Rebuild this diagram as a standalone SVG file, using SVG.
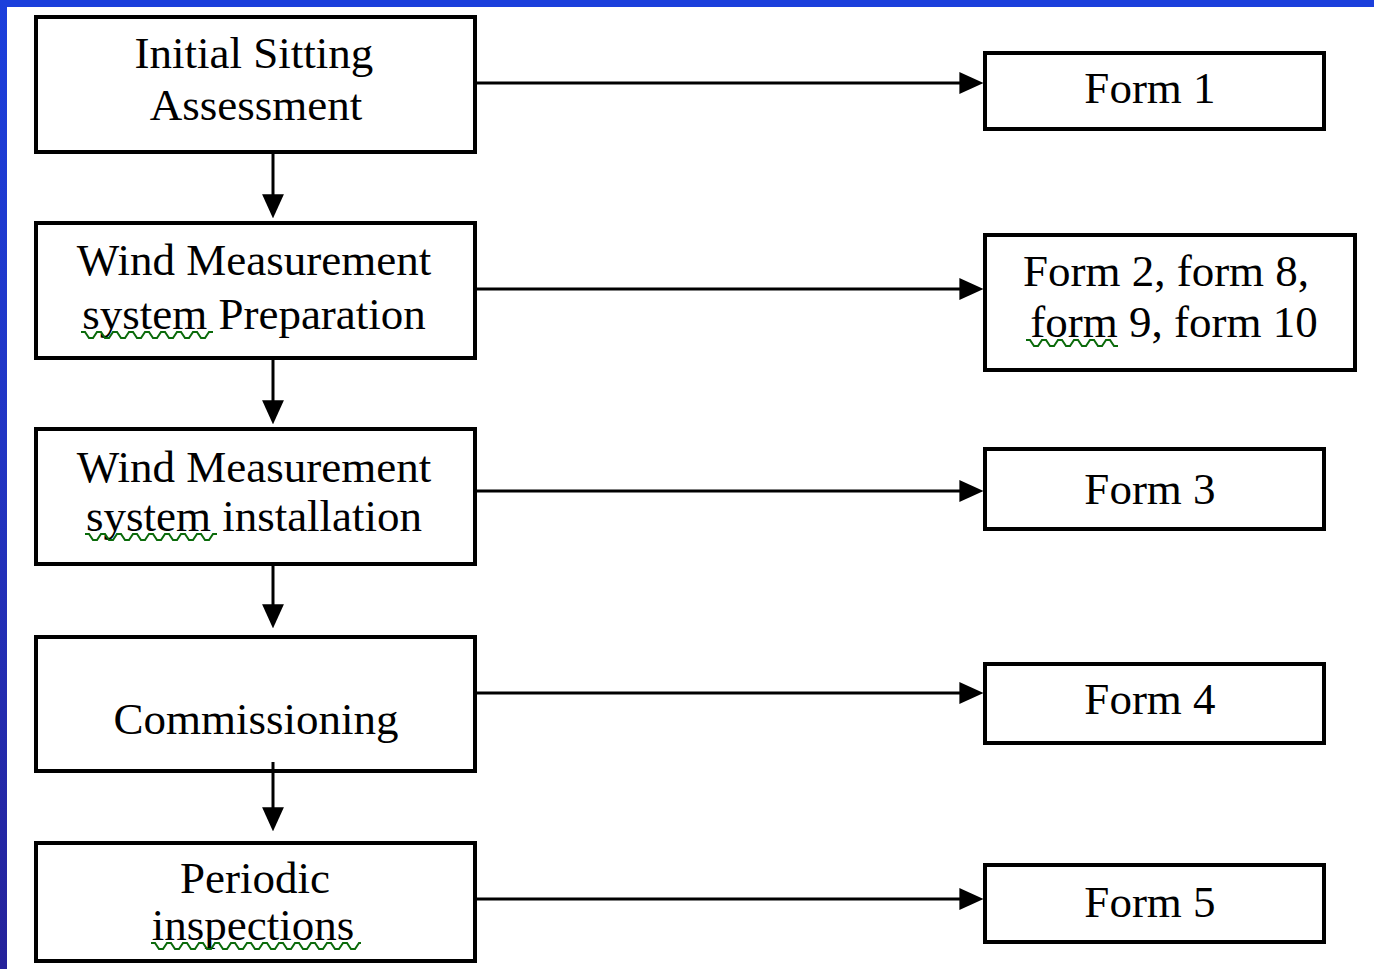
<svg xmlns="http://www.w3.org/2000/svg" width="1374" height="969" viewBox="0 0 1374 969">
  <defs>
    <linearGradient id="sideBlue" x1="0" y1="0" x2="0" y2="1">
      <stop offset="0" stop-color="#1b3fdc"/>
      <stop offset="0.45" stop-color="#2135c4"/>
      <stop offset="1" stop-color="#25229a"/>
    </linearGradient>
    <marker id="arr" markerUnits="userSpaceOnUse" markerWidth="24" markerHeight="22" viewBox="0 0 22 20" refX="18" refY="10" orient="auto">
      <path d="M0,0 L22,10 L0,20 z" fill="#000"/>
    </marker>
    <style>
      .box { fill: #fff; stroke: #000; stroke-width: 4; }
      .lbl { font-family: "Liberation Serif", "Times New Roman", serif; font-size: 45px; fill: #000; text-anchor: middle; }
      .conn { stroke: #000; stroke-width: 3; fill: none; marker-end: url(#arr); }
      .squig { stroke: #0a6a0a; stroke-width: 2; fill: none; }
    </style>
  </defs>

  <rect x="0" y="0" width="1374" height="969" fill="#fff"/>
  <rect x="0" y="0" width="1374" height="7" fill="#1b3fdc"/>
  <rect x="0" y="0" width="7" height="969" fill="url(#sideBlue)"/>

  <g id="node-initial">
    <rect class="box" x="36" y="17" width="439" height="135"/>
    <text class="lbl" x="254" y="68">Initial Sitting</text>
    <text class="lbl" x="256" y="120">Assessment</text>
  </g>

  <g id="node-prep">
    <rect class="box" x="36" y="223" width="439" height="135"/>
    <text class="lbl" x="254" y="275">Wind Measurement</text>
    <text class="lbl" x="254" y="329">system Preparation</text>
    <polyline class="squig" points="81,332 85,332 89,338 93,338 97,332 101,332 105,338 109,338 113,332 117,332 121,338 125,338 129,332 133,332 137,338 141,338 145,332 149,332 153,338 157,338 161,332 165,332 169,338 173,338 177,332 181,332 185,338 189,338 193,332 197,332 201,338 205,338 209,332 213,332"/>
  </g>

  <g id="node-install">
    <rect class="box" x="36" y="429" width="439" height="135"/>
    <text class="lbl" x="254" y="482">Wind Measurement</text>
    <text class="lbl" x="254" y="531">system installation</text>
    <polyline class="squig" points="85,534 89,534 93,540 97,540 101,534 105,534 109,540 113,540 117,534 121,534 125,540 129,540 133,534 137,534 141,540 145,540 149,534 153,534 157,540 161,540 165,534 169,534 173,540 177,540 181,534 185,534 189,540 193,540 197,534 201,534 205,540 209,540 213,534 217,534"/>
  </g>

  <g id="node-commissioning">
    <rect class="box" x="36" y="637" width="439" height="134"/>
    <text class="lbl" x="256" y="734">Commissioning</text>
  </g>

  <g id="node-periodic">
    <rect class="box" x="36" y="843" width="439" height="118"/>
    <text class="lbl" x="255" y="893">Periodic</text>
    <text class="lbl" x="253" y="940">inspections</text>
    <polyline class="squig" points="151,943 155,943 159,949 163,949 167,943 171,943 175,949 179,949 183,943 187,943 191,949 195,949 199,943 203,943 207,949 211,949 215,943 219,943 223,949 227,949 231,943 235,943 239,949 243,949 247,943 251,943 255,949 259,949 263,943 267,943 271,949 275,949 279,943 283,943 287,949 291,949 295,943 299,943 303,949 307,949 311,943 315,943 319,949 323,949 327,943 331,943 335,949 339,949 343,943 347,943 351,949 355,949 359,943 361,943"/>
  </g>

  <g id="form-1">
    <rect class="box" x="985" y="53" width="339" height="76"/>
    <text class="lbl" x="1150" y="103">Form 1</text>
  </g>

  <g id="form-2">
    <rect class="box" x="985" y="235" width="370" height="135"/>
    <text class="lbl" x="1166" y="286">Form 2, form 8,</text>
    <text class="lbl" x="1174" y="337">form 9, form 10</text>
    <polyline class="squig" points="1026,340 1030,340 1034,346 1038,346 1042,340 1046,340 1050,346 1054,346 1058,340 1062,340 1066,346 1070,346 1074,340 1078,340 1082,346 1086,346 1090,340 1094,340 1098,346 1102,346 1106,340 1110,340 1114,346 1118,346"/>
  </g>

  <g id="form-3">
    <rect class="box" x="985" y="449" width="339" height="80"/>
    <text class="lbl" x="1150" y="504">Form 3</text>
  </g>

  <g id="form-4">
    <rect class="box" x="985" y="664" width="339" height="79"/>
    <text class="lbl" x="1150" y="714">Form 4</text>
  </g>

  <g id="form-5">
    <rect class="box" x="985" y="865" width="339" height="77"/>
    <text class="lbl" x="1150" y="917">Form 5</text>
  </g>

  <g id="connectors">
    <line class="conn" x1="477" y1="83" x2="979" y2="83"/>
    <line class="conn" x1="477" y1="289" x2="979" y2="289"/>
    <line class="conn" x1="477" y1="491" x2="979" y2="491"/>
    <line class="conn" x1="477" y1="693" x2="979" y2="693"/>
    <line class="conn" x1="477" y1="899" x2="979" y2="899"/>
    <line class="conn" x1="273" y1="154" x2="273" y2="214"/>
    <line class="conn" x1="273" y1="360" x2="273" y2="420"/>
    <line class="conn" x1="273" y1="566" x2="273" y2="624"/>
    <line class="conn" x1="273" y1="762" x2="273" y2="827"/>
  </g>
</svg>
